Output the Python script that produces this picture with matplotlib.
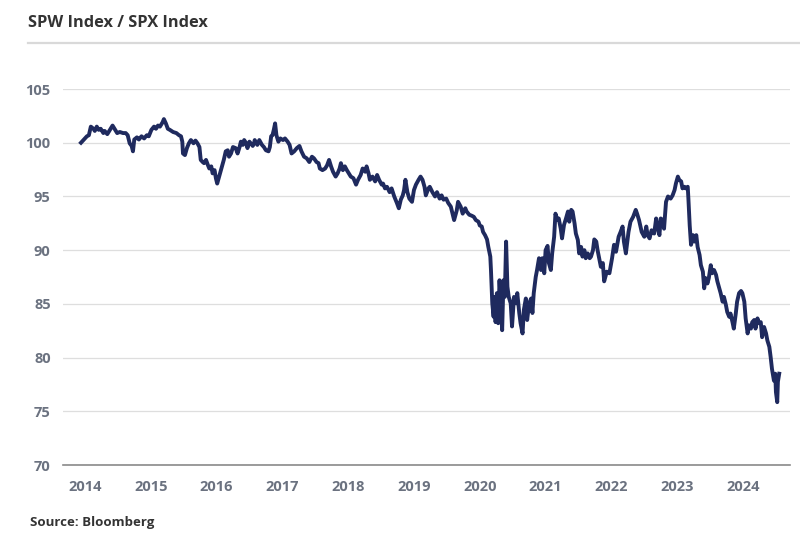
import numpy as np
import matplotlib
matplotlib.use("Agg")
import matplotlib.pyplot as plt

# SPW / SPX ratio (decimal year, ratio value)
dates = [
    2014.00, 2014.03, 2014.09, 2014.12, 2014.15, 2014.19, 2014.21, 2014.24, 2014.27, 2014.30,
    2014.34, 2014.36, 2014.40, 2014.44, 2014.48, 2014.52, 2014.55, 2014.59, 2014.64, 2014.68,
    2014.71, 2014.74, 2014.77, 2014.79, 2014.81, 2014.85, 2014.88, 2014.92, 2014.96, 2015.00,
    2015.03, 2015.07, 2015.11, 2015.14, 2015.17, 2015.20, 2015.24, 2015.26, 2015.29, 2015.32,
    2015.35, 2015.40, 2015.45, 2015.49, 2015.52, 2015.54, 2015.55, 2015.58, 2015.61, 2015.64,
    2015.67, 2015.71, 2015.74, 2015.77, 2015.80, 2015.82, 2015.85, 2015.87, 2015.90, 2015.93,
    2015.95, 2015.98, 2016.00, 2016.03, 2016.05, 2016.07, 2016.10, 2016.12, 2016.15, 2016.17,
    2016.20, 2016.23, 2016.25, 2016.28, 2016.31, 2016.35, 2016.38, 2016.41, 2016.43, 2016.46,
    2016.48, 2016.51, 2016.53, 2016.56, 2016.58, 2016.61, 2016.63, 2016.64, 2016.68, 2016.71,
    2016.75, 2016.78, 2016.81, 2016.85, 2016.87, 2016.89, 2016.91, 2016.93, 2016.95, 2016.97,
    2017.00, 2017.03, 2017.07, 2017.10, 2017.14, 2017.17, 2017.20, 2017.24, 2017.28, 2017.32,
    2017.35, 2017.39, 2017.43, 2017.47, 2017.51, 2017.54, 2017.58, 2017.61, 2017.63, 2017.67,
    2017.71, 2017.74, 2017.77, 2017.80, 2017.83, 2017.87, 2017.90, 2017.93, 2017.95, 2017.98,
    2018.01, 2018.04, 2018.07, 2018.10, 2018.14, 2018.18, 2018.21, 2018.25, 2018.28, 2018.32,
    2018.34, 2018.37, 2018.39, 2018.43, 2018.47, 2018.50, 2018.53, 2018.57, 2018.59, 2018.62,
    2018.65, 2018.69, 2018.72, 2018.76, 2018.80, 2018.83, 2018.86, 2018.89, 2018.91, 2018.93,
    2018.96, 2018.99, 2019.03, 2019.06, 2019.09, 2019.13, 2019.16, 2019.19, 2019.22, 2019.24,
    2019.28, 2019.30, 2019.34, 2019.38, 2019.41, 2019.45, 2019.48, 2019.51, 2019.55, 2019.58,
    2019.62, 2019.65, 2019.67, 2019.71, 2019.73, 2019.77, 2019.80, 2019.84, 2019.86, 2019.90,
    2019.94, 2019.97, 2020.00, 2020.04, 2020.06, 2020.09, 2020.11, 2020.14, 2020.17, 2020.19,
    2020.22, 2020.23, 2020.24, 2020.25, 2020.27, 2020.28, 2020.30, 2020.32, 2020.34, 2020.36,
    2020.38, 2020.40, 2020.42, 2020.44, 2020.46, 2020.48, 2020.50, 2020.53, 2020.55, 2020.58,
    2020.61, 2020.63, 2020.66, 2020.68, 2020.71, 2020.73, 2020.76, 2020.78, 2020.81, 2020.84,
    2020.86, 2020.88, 2020.91, 2020.93, 2020.96, 2020.99, 2021.01, 2021.04, 2021.06, 2021.09,
    2021.11, 2021.14, 2021.16, 2021.19, 2021.21, 2021.24, 2021.26, 2021.29, 2021.31, 2021.34,
    2021.37, 2021.40, 2021.42, 2021.45, 2021.47, 2021.50, 2021.52, 2021.55, 2021.57, 2021.60,
    2021.62, 2021.65, 2021.67, 2021.70, 2021.73, 2021.75, 2021.78, 2021.80, 2021.83, 2021.85,
    2021.88, 2021.90, 2021.93, 2021.95, 2021.99, 2022.03, 2022.07, 2022.10, 2022.13, 2022.17,
    2022.20, 2022.23, 2022.25, 2022.28, 2022.32, 2022.35, 2022.39, 2022.43, 2022.45, 2022.48,
    2022.52, 2022.56, 2022.59, 2022.61, 2022.64, 2022.67, 2022.71, 2022.74, 2022.76, 2022.79,
    2022.81, 2022.84, 2022.86, 2022.89, 2022.92, 2022.96, 2022.99, 2023.02, 2023.04, 2023.07,
    2023.09, 2023.12, 2023.14, 2023.17, 2023.19, 2023.22, 2023.23, 2023.25, 2023.27, 2023.30,
    2023.32, 2023.35, 2023.37, 2023.40, 2023.42, 2023.45, 2023.47, 2023.49, 2023.52, 2023.54,
    2023.57, 2023.59, 2023.62, 2023.65, 2023.67, 2023.70, 2023.72, 2023.75, 2023.77, 2023.80,
    2023.82, 2023.85, 2023.87, 2023.90, 2023.92, 2023.95, 2023.97, 2024.00, 2024.03, 2024.05,
    2024.08, 2024.10, 2024.13, 2024.15, 2024.18, 2024.20, 2024.23, 2024.25, 2024.28, 2024.30,
    2024.33, 2024.35, 2024.38, 2024.41, 2024.43, 2024.46, 2024.48, 2024.50, 2024.53, 2024.55,
    2024.56, 2024.58, 2024.59, 2024.61,
]
ratio = [
    100.0, 100.2, 100.6, 100.7, 101.5, 101.3, 101.1, 101.5, 101.2, 101.3,
    100.9, 101.1, 100.8, 101.2, 101.6, 101.2, 100.9, 101.0, 100.9, 100.9,
    100.7, 99.95, 99.7, 99.2, 100.3, 100.5, 100.3, 100.6, 100.4, 100.7,
    100.6, 101.2, 101.5, 101.3, 101.6, 101.5, 101.9, 102.2, 101.8, 101.3,
    101.2, 101.0, 100.9, 100.7, 100.6, 100.1, 99.0, 98.85, 99.5, 99.95,
    100.25, 99.95, 100.2, 99.95, 99.6, 98.4, 98.2, 98.1, 98.4, 97.9,
    97.6, 97.8, 97.15, 97.45, 96.7, 96.2, 96.85, 97.3, 97.9, 98.4,
    99.2, 99.3, 98.7, 99.0, 99.6, 99.5, 99.0, 99.6, 100.1, 99.8,
    100.25, 99.95, 99.5, 100.1, 99.95, 99.7, 99.95, 100.25, 99.8, 100.25,
    99.8, 99.6, 99.3, 99.2, 99.6, 100.6, 100.7, 101.2, 101.8, 100.7,
    100.1, 100.4, 100.25, 100.4, 100.1, 99.8, 99.0, 99.2, 99.5, 99.7,
    99.2, 98.7, 98.55, 98.2, 98.7, 98.55, 98.2, 98.1, 97.6, 97.45,
    97.6, 97.9, 98.4, 97.8, 97.3, 96.85, 97.15, 97.6, 98.1, 97.45,
    97.8, 97.45, 97.15, 96.85, 96.7, 96.1, 96.55, 97.0, 97.6, 97.3,
    97.8, 97.15, 96.55, 96.85, 96.4, 97.0, 96.55, 96.1, 96.2, 95.75,
    95.9, 95.4, 95.75, 95.0, 94.4, 93.9, 94.7, 95.1, 95.6, 96.55,
    95.4, 94.8, 94.5, 95.6, 96.1, 96.55, 96.85, 96.55, 95.9, 95.1,
    95.75, 95.9, 95.4, 95.0, 95.4, 94.8, 95.1, 94.7, 94.8, 94.4,
    94.05, 93.3, 92.8, 93.7, 94.5, 94.05, 93.4, 93.9, 93.6, 93.3,
    93.2, 93.1, 92.8, 92.65, 92.3, 92.2, 91.7, 91.4, 91.0, 90.3,
    89.4, 88.15, 86.6, 85.05, 83.8, 85.65, 83.3, 86.0, 83.2, 87.2,
    85.05, 82.55, 87.2, 85.65, 90.8, 86.6, 85.65, 85.05, 82.9, 85.65,
    85.05, 86.0, 84.15, 83.2, 82.25, 84.45, 85.5, 83.5, 85.05, 85.5,
    84.15, 86.0, 87.5, 88.15, 89.25, 88.15, 89.25, 87.85, 90.0, 90.4,
    88.8, 88.15, 89.7, 91.25, 93.4, 92.8, 92.95, 92.0, 91.1, 92.35,
    92.95, 93.6, 92.65, 93.75, 93.6, 92.5, 91.55, 90.95, 89.7, 90.3,
    89.4, 90.0, 89.25, 89.7, 89.25, 89.4, 90.0, 91.0, 90.8, 90.0,
    89.1, 88.45, 88.8, 87.1, 88.0, 87.85, 89.25, 90.5, 89.85, 91.25,
    91.7, 92.2, 90.8, 89.7, 91.7, 92.65, 93.1, 93.75, 93.4, 92.8,
    91.7, 91.25, 92.2, 91.4, 91.1, 91.85, 91.55, 92.95, 92.2, 91.4,
    92.95, 92.8, 92.0, 94.5, 95.0, 94.8, 95.1, 95.6, 96.2, 96.85,
    96.55, 96.4, 95.75, 95.9, 95.75, 95.9, 94.8, 92.3, 90.5, 91.4,
    90.8, 91.4, 90.3, 89.55, 88.6, 88.0, 86.45, 87.4, 86.9, 87.4,
    88.6, 87.85, 88.15, 87.7, 87.1, 86.45, 86.0, 85.2, 85.65, 84.9,
    84.25, 83.8, 84.1, 83.3, 82.7, 84.1, 85.2, 86.0, 86.2, 86.0,
    85.2, 83.65, 82.25, 83.0, 82.7, 83.3, 83.5, 82.7, 83.65, 83.2,
    83.3, 81.9, 82.85, 82.25, 81.6, 81.0, 80.05, 78.95, 77.85, 78.5,
    76.8, 75.85, 77.75, 78.5,
]
year_ticks = list(range(2014, 2025))
y_ticks = [70, 75, 80, 85, 90, 95, 100, 105]

plt.rcParams['font.family'] = ['Open Sans', 'DejaVu Sans']

fig = plt.figure(figsize=(8, 5.35), dpi=100)
ax = fig.add_axes([0.079, 0.1308, 0.909, 0.7028])

ax.plot(dates, ratio, color='#1f2a5e', linewidth=2.8, solid_joinstyle='round')

ax.set_ylim(70, 105)
ax.set_xlim(2013.73, 2024.78)
ax.set_yticks(y_ticks)
ax.set_xticks([y + 0.06 for y in year_ticks])
ax.set_xticklabels([str(y) for y in year_ticks])
ax.grid(axis='y', color='#dedede', linewidth=0.9)
ax.set_axisbelow(True)
for s in ['top', 'right', 'left']:
    ax.spines[s].set_visible(False)
ax.spines['bottom'].set_color('#8a8a8a')
ax.spines['bottom'].set_linewidth(1.2)
ax.tick_params(axis='both', length=0, labelsize=10.5, labelcolor='#6b7280')
ax.tick_params(axis='y', pad=9)
ax.tick_params(axis='x', pad=11)
for lab in ax.get_xticklabels() + ax.get_yticklabels():
    lab.set_fontweight('bold')

fig.text(0.035, 0.957, 'SPW Index / SPX Index', fontsize=11.8, fontweight='bold',
         color='#333333', va='center', ha='left')
fig.add_artist(plt.Line2D([0.035, 1.0], [0.919, 0.919], color='#d9d9d9', linewidth=1.6))
fig.text(0.037, 0.024, 'Source: Bloomberg', fontsize=9.5, fontweight='bold',
         color='#333333', va='center', ha='left')

fig.savefig('out.png', dpi=100, facecolor='white')
